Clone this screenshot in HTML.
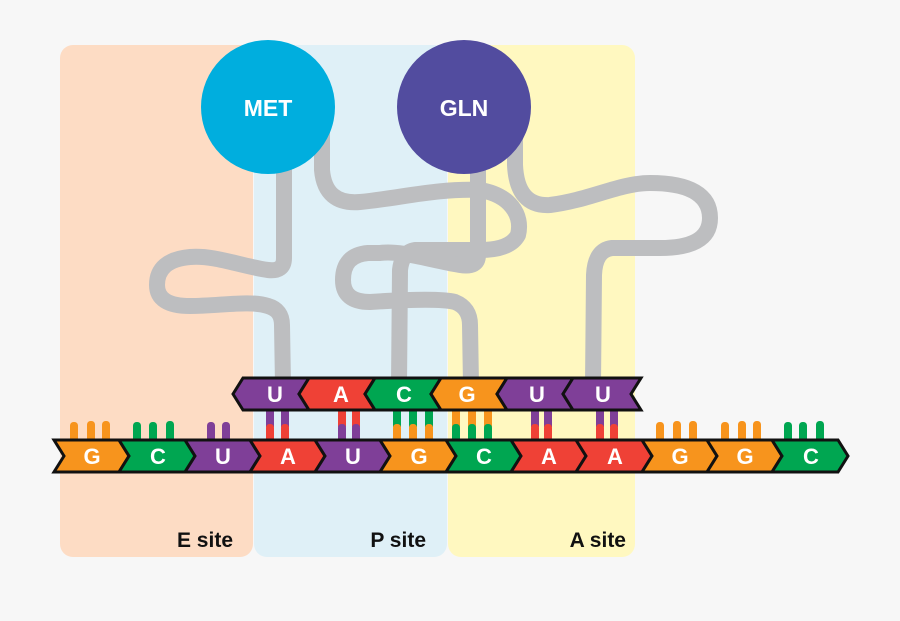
<!DOCTYPE html>
<html><head><meta charset="utf-8"><style>
html,body{margin:0;padding:0;background:#f7f7f7;}
svg{display:block;}
text{font-family:"Liberation Sans",sans-serif;font-weight:bold;}
</style></head><body>
<svg width="900" height="621" viewBox="0 0 900 621" xmlns="http://www.w3.org/2000/svg">
<rect width="900" height="621" fill="#f7f7f7"/>
<rect x="60" y="45" width="193" height="512" rx="13" fill="#fddcc4"/>
<rect x="254" y="45" width="193" height="512" rx="13" fill="#dff0f7"/>
<rect x="448" y="45" width="187" height="512" rx="13" fill="#fff8c0"/>
<text x="233" y="547" font-size="21" text-anchor="end" fill="#111">E site</text>
<text x="426" y="547" font-size="21" text-anchor="end" fill="#111">P site</text>
<text x="626" y="547" font-size="21" text-anchor="end" fill="#111">A site</text>

<g fill="none" stroke="#bdbec0" stroke-width="16" stroke-linecap="round" stroke-linejoin="round">
<path d="M284 160 L284 258 Q284 272 268 270 C240 266 215 255 190 257 Q157 260 157 285 Q157 306 190 306 C220 306 250 300 268 306 Q282 310 282 325 L283 385"/>
<path d="M322 130 L322 170 Q325 205 360 202 C400 198 440 188 480 190 C510 195 523 215 518 235 Q510 250 480 250 L415 250 Q402 252 400 270 L399 385"/>
<path d="M478 150 L478 255 Q478 268 460 265 C430 260 400 250 380 253 L368 253 Q343 255 343 280 Q343 302 370 302 C400 300 440 298 455 302 Q470 308 470 325 L471 385"/>
<path d="M515 130 L515 165 Q517 207 550 205 C590 200 620 183 650 183 C690 183 710 195 710 218 C710 240 690 248 660 248 L612 248 Q595 250 594 275 L593 385"/>
</g>
<circle cx="268" cy="107" r="67" fill="#00aede"/>
<circle cx="464" cy="107" r="67" fill="#524c9f"/>
<text x="268" y="116" font-size="23" text-anchor="middle" fill="#fff">MET</text>
<text x="464" y="116" font-size="23" text-anchor="middle" fill="#fff">GLN</text>

<g>
<rect x="70" y="422" width="8" height="22" rx="3.5" fill="#f7941d"/><rect x="87" y="421" width="8" height="22" rx="3.5" fill="#f7941d"/><rect x="102" y="421" width="8" height="22" rx="3.5" fill="#f7941d"/>
<rect x="133" y="422" width="8" height="22" rx="3.5" fill="#00a651"/><rect x="149" y="422" width="8" height="22" rx="3.5" fill="#00a651"/><rect x="166" y="421" width="8" height="22" rx="3.5" fill="#00a651"/>
<rect x="207" y="422" width="8" height="22" rx="3.5" fill="#7f3f98"/><rect x="222" y="422" width="8" height="22" rx="3.5" fill="#7f3f98"/>
<rect x="656" y="422" width="8" height="22" rx="3.5" fill="#f7941d"/><rect x="673" y="421" width="8" height="22" rx="3.5" fill="#f7941d"/><rect x="689" y="421" width="8" height="22" rx="3.5" fill="#f7941d"/>
<rect x="721" y="422" width="8" height="22" rx="3.5" fill="#f7941d"/><rect x="738" y="421" width="8" height="22" rx="3.5" fill="#f7941d"/><rect x="753" y="421" width="8" height="22" rx="3.5" fill="#f7941d"/>
<rect x="784" y="422" width="8" height="22" rx="3.5" fill="#00a651"/><rect x="799" y="422" width="8" height="22" rx="3.5" fill="#00a651"/><rect x="816" y="421" width="8" height="22" rx="3.5" fill="#00a651"/>
</g>
<g>
<rect x="266" y="405" width="8" height="22" fill="#7f3f98"/><rect x="266" y="424" width="8" height="20" rx="3.5" fill="#ef4136"/>
<rect x="281" y="405" width="8" height="22" fill="#7f3f98"/><rect x="281" y="424" width="8" height="20" rx="3.5" fill="#ef4136"/>
<rect x="338" y="405" width="8" height="22" fill="#ef4136"/><rect x="338" y="424" width="8" height="20" rx="3.5" fill="#7f3f98"/>
<rect x="352" y="405" width="8" height="22" fill="#ef4136"/><rect x="352" y="424" width="8" height="20" rx="3.5" fill="#7f3f98"/>
<rect x="393" y="405" width="8" height="22" fill="#00a651"/><rect x="393" y="424" width="8" height="20" rx="3.5" fill="#f7941d"/>
<rect x="409" y="405" width="8" height="22" fill="#00a651"/><rect x="409" y="424" width="8" height="20" rx="3.5" fill="#f7941d"/>
<rect x="425" y="405" width="8" height="22" fill="#00a651"/><rect x="425" y="424" width="8" height="20" rx="3.5" fill="#f7941d"/>
<rect x="452" y="405" width="8" height="22" fill="#f7941d"/><rect x="452" y="424" width="8" height="20" rx="3.5" fill="#00a651"/>
<rect x="468" y="405" width="8" height="22" fill="#f7941d"/><rect x="468" y="424" width="8" height="20" rx="3.5" fill="#00a651"/>
<rect x="484" y="405" width="8" height="22" fill="#f7941d"/><rect x="484" y="424" width="8" height="20" rx="3.5" fill="#00a651"/>
<rect x="531" y="405" width="8" height="22" fill="#7f3f98"/><rect x="531" y="424" width="8" height="20" rx="3.5" fill="#ef4136"/>
<rect x="544" y="405" width="8" height="22" fill="#7f3f98"/><rect x="544" y="424" width="8" height="20" rx="3.5" fill="#ef4136"/>
<rect x="596" y="405" width="8" height="22" fill="#7f3f98"/><rect x="596" y="424" width="8" height="20" rx="3.5" fill="#ef4136"/>
<rect x="610" y="405" width="8" height="22" fill="#7f3f98"/><rect x="610" y="424" width="8" height="20" rx="3.5" fill="#ef4136"/>
</g>

<g stroke="#111" stroke-width="3" stroke-linejoin="miter">
<polygon points="54,440 119,440 129,456 119,472 54,472 64,456" fill="#f7941d"/>
<polygon points="119,440 185,440 195,456 185,472 119,472 129,456" fill="#00a651"/>
<polygon points="185,440 250,440 260,456 250,472 185,472 195,456" fill="#7f3f98"/>
<polygon points="250,440 315,440 325,456 315,472 250,472 260,456" fill="#ef4136"/>
<polygon points="315,440 380,440 390,456 380,472 315,472 325,456" fill="#7f3f98"/>
<polygon points="380,440 446,440 456,456 446,472 380,472 390,456" fill="#f7941d"/>
<polygon points="446,440 511,440 521,456 511,472 446,472 456,456" fill="#00a651"/>
<polygon points="511,440 576,440 586,456 576,472 511,472 521,456" fill="#ef4136"/>
<polygon points="576,440 642,440 652,456 642,472 576,472 586,456" fill="#ef4136"/>
<polygon points="642,440 707,440 717,456 707,472 642,472 652,456" fill="#f7941d"/>
<polygon points="707,440 772,440 782,456 772,472 707,472 717,456" fill="#f7941d"/>
<polygon points="772,440 838,440 848,456 838,472 772,472 782,456" fill="#00a651"/>
</g>
<g font-size="22" fill="#fff" text-anchor="middle">
<text x="92" y="464">G</text><text x="158" y="464">C</text><text x="223" y="464">U</text>
<text x="288" y="464">A</text><text x="353" y="464">U</text><text x="419" y="464">G</text>
<text x="484" y="464">C</text><text x="549" y="464">A</text><text x="615" y="464">A</text>
<text x="680" y="464">G</text><text x="745" y="464">G</text><text x="811" y="464">C</text>
</g>

<g stroke="#111" stroke-width="3" stroke-linejoin="miter">
<polygon points="233,394 243,378 309,378 299,394 309,410 243,410" fill="#7f3f98"/>
<polygon points="299,394 309,378 375,378 365,394 375,410 309,410" fill="#ef4136"/>
<polygon points="365,394 375,378 441,378 431,394 441,410 375,410" fill="#00a651"/>
<polygon points="431,394 441,378 507,378 497,394 507,410 441,410" fill="#f7941d"/>
<polygon points="497,394 507,378 573,378 563,394 573,410 507,410" fill="#7f3f98"/>
<polygon points="563,394 573,378 641,378 631,394 641,410 573,410" fill="#7f3f98"/>
</g>
<g font-size="22" fill="#fff" text-anchor="middle">
<text x="275" y="402">U</text><text x="341" y="402">A</text><text x="404" y="402">C</text>
<text x="467" y="402">G</text><text x="537" y="402">U</text><text x="603" y="402">U</text>
</g>
</svg>
</body></html>
